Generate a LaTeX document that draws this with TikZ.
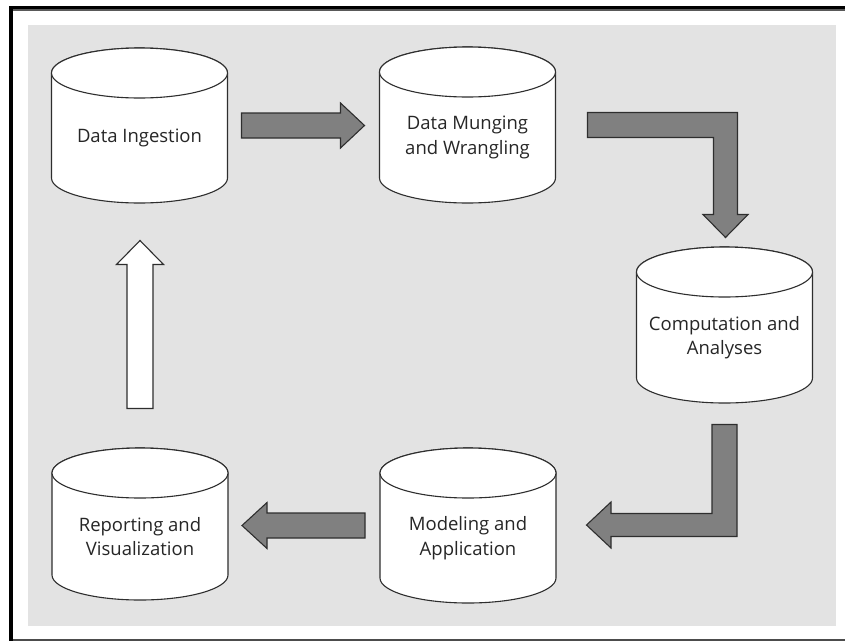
\documentclass[tikz,border=0pt]{standalone}
\usepackage{fontspec}
\setmainfont{Open Sans}
\usepackage{tikz}
\usetikzlibrary{calc}
\definecolor{bggray}{HTML}{E3E3E3}
\definecolor{arrowgray}{HTML}{808080}
\definecolor{edgegray}{HTML}{2E2E2E}

% cylinder: name, centre x, top y, bottom y, text
\newcommand{\dbcyl}[5]{%
  \filldraw[cyl] ({#2-88},#3) -- ({#2-88},#4)
    arc[start angle=180, end angle=360, x radius=88pt, y radius=25pt]
    -- ({#2+88},#3)
    arc[start angle=0, end angle=180, x radius=88pt, y radius=25pt] -- cycle;
  \draw[cyl] (#2,#3) ellipse [x radius=88pt, y radius=25pt];
  \node[cylbox] (#1) at (#2,{(#3+#4)/2}) {};
  \node[cyltext] (#1-txt) at (#2,{(#3+25+#4)/2}) {#5};
}

\begin{document}
\begin{tikzpicture}[x=1pt, y=-1pt,
    cyl/.style={draw=edgegray, fill=white, line width=1.1pt},
    cylbox/.style={minimum width=176pt, minimum height=155pt, inner sep=0pt, outer sep=0pt},
    cyltext/.style={align=center, text=black!85, font=\fontsize{18.5}{24.5}\selectfont},
    blockarrow/.style={draw=edgegray, fill=arrowgray, line width=1.1pt, line join=miter},
    whitearrow/.style={draw=edgegray, fill=white, line width=1.1pt, line join=miter}]
  \useasboundingbox (0,0) rectangle (845,641);
  % frame and background
  \fill[black] (9,6) rectangle (845,9);
  \fill[black!65] (9,9) rectangle (845,11);
  \fill[black] (9,6) rectangle (13,641);
  \draw[black!70, line width=1.2pt] (13,640) -- (845,640);
  \fill[bggray] (28,25) rectangle (836,626);

  % the five stages
  \dbcyl{ing}{139.5}{73}{178}{Data Ingestion}
  \dbcyl{mung}{467.5}{72}{178}{Data Munging\\and Wrangling}
  \dbcyl{comp}{724.5}{272}{378}{Computation and\\Analyses}
  \dbcyl{mod}{468}{473}{578}{Modeling and\\Application}
  \dbcyl{rep}{140}{473}{575}{Reporting and\\Visualization}

  % arrows between stages
  \draw[blockarrow] ($(ing.east)+(14,-12.5)$) -- ++(99,0) -- ++(0,-10) -- ++(24,22.5)
    -- ++(-24,22.5) -- ++(0,-10) -- ++(-99,0) -- cycle;
  \draw[blockarrow] ($(mung.east)+(32,-12.5)$) -- ++(150,0) -- ++(0,102) -- ++(10.5,0)
    -- ++(-22.5,23) -- ++(-22.5,-23) -- ++(10.5,0) -- ++(0,-77) -- ++(-126,0) -- cycle;
  \draw[blockarrow] ($(comp.south)+(-12.5,22)$) -- ++(25,0) -- ++(0,112) -- ++(-126,0)
    -- ++(0,11.5) -- ++(-24.5,-23) -- ++(24.5,-23) -- ++(0,11.5) -- ++(101,0) -- cycle;
  \draw[blockarrow] ($(mod.west)+(-15,-12.5)$) -- ++(-98,0) -- ++(0,-10.5) -- ++(-25,23)
    -- ++(25,23) -- ++(0,-10.5) -- ++(98,0) -- cycle;
  \draw[whitearrow] ($(rep.north)+(-13,-38)$) -- ++(0,-144) -- ++(-10.5,0) -- ++(23.5,-24)
    -- ++(23.5,24) -- ++(-10.5,0) -- ++(0,144) -- cycle;
\end{tikzpicture}
\end{document}
